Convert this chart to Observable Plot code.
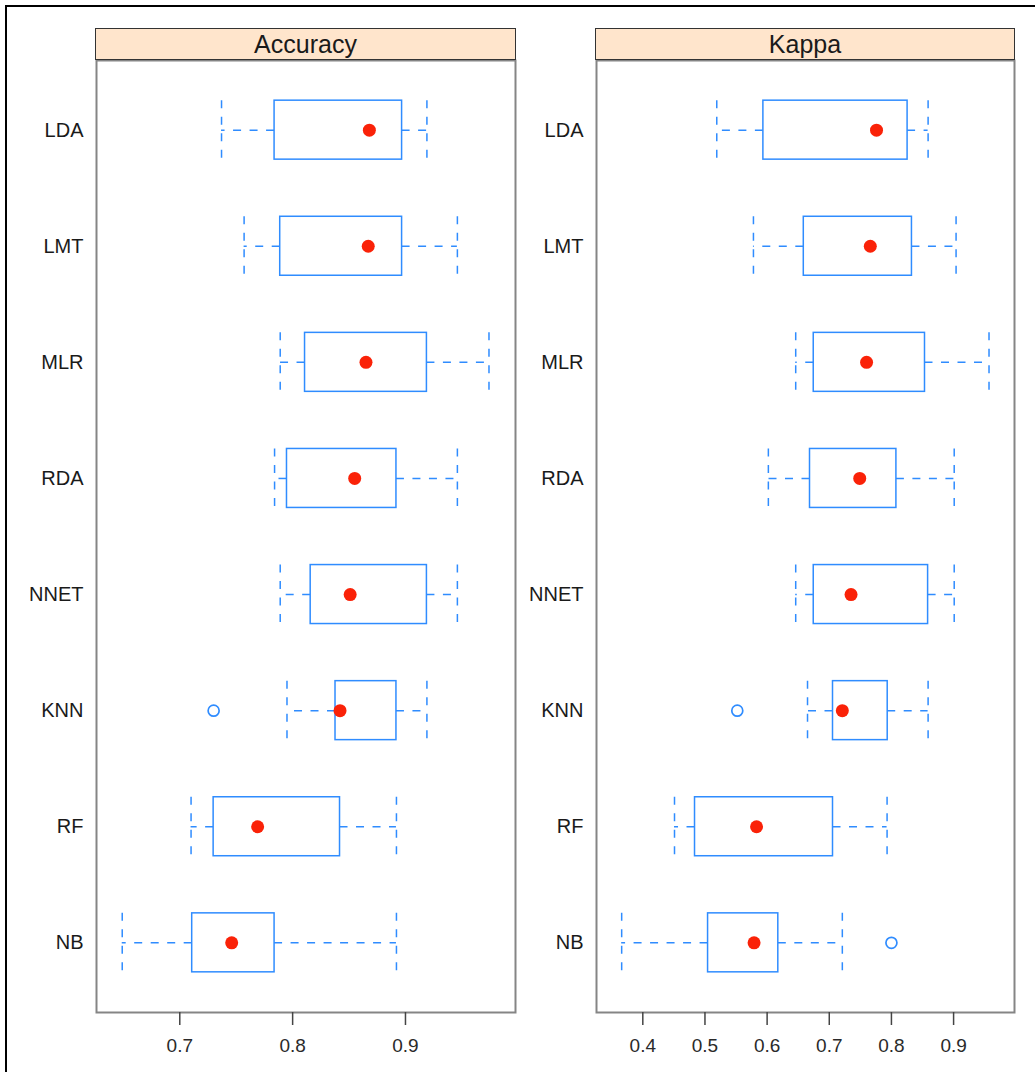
<!DOCTYPE html>
<html>
<head>
<meta charset="utf-8">
<script src="https://cdn.jsdelivr.net/npm/d3@7"></script>
<script src="https://cdn.jsdelivr.net/npm/@observablehq/plot@0.6"></script>
<style>
  html, body { margin: 0; padding: 0; background: white; }
  #wrap { position: relative; width: 1035px; height: 1072px; overflow: hidden; font-family: "Liberation Sans", Arial, sans-serif; }
  .outer { position: absolute; left: 5px; top: 5px; right: -10px; bottom: -10px; border-top: 2px solid #000; border-left: 2px solid #000; }
  .strip { position: absolute; top: 28px; height: 32px; box-sizing: border-box; border: 1.5px solid #333; background: #ffe5cc; color: #1a1a1a; font-size: 25px; text-align: center; line-height: 30px; }
  .panel { position: absolute; top: 58px; }
</style>
</head>
<body>
<div id="wrap">
  <div class="outer"></div>
</div>
<script>
// Models, top to bottom
const models = ["LDA", "LMT", "MLR", "RDA", "NNET", "KNN", "RF", "NB"];

// Accuracy
const accLow  = [0.737, 0.757, 0.789, 0.784, 0.789, 0.795, 0.710, 0.649];
const accQ1   = [0.784, 0.789, 0.811, 0.795, 0.816, 0.838, 0.730, 0.711];
const accMed  = [0.868, 0.867, 0.865, 0.855, 0.851, 0.842, 0.769, 0.746];
const accQ3   = [0.897, 0.897, 0.919, 0.892, 0.919, 0.892, 0.842, 0.784];
const accHigh = [0.919, 0.946, 0.974, 0.946, 0.946, 0.919, 0.892, 0.892];
const accOutModels = ["KNN"];
const accOutValues = [0.730];
const accTicks = [0.7, 0.8, 0.9];

// Kappa
const kapLow  = [0.519, 0.578, 0.646, 0.602, 0.646, 0.665, 0.451, 0.366];
const kapQ1   = [0.594, 0.659, 0.675, 0.669, 0.675, 0.706, 0.484, 0.505];
const kapMed  = [0.776, 0.766, 0.760, 0.749, 0.735, 0.721, 0.583, 0.579];
const kapQ3   = [0.826, 0.833, 0.854, 0.808, 0.859, 0.794, 0.706, 0.618];
const kapHigh = [0.859, 0.904, 0.957, 0.901, 0.901, 0.859, 0.793, 0.721];
const kapOutModels = ["KNN", "NB"];
const kapOutValues = [0.552, 0.800];
const kapTicks = [0.4, 0.5, 0.6, 0.7, 0.8, 0.9];

const BLUE = "#2f8cff";
const RED = "#fa2208";
const H = 0.254; // half box height in category units
const n = models.length;
const pos = m => n - models.indexOf(m); // LDA = 8 (top), NB = 1 (bottom)

function makePanel({title, low, q1, med, q3, high, outModels, outValues, ticks, domain, left, width, marginLeft, marginRight}) {
  const rows = models.map((m, k) => ({model: m, i: pos(m), low: low[k], q1: q1[k], med: med[k], q3: q3[k], high: high[k]}));
  const outs = outModels.map((m, k) => ({model: m, i: pos(m), value: outValues[k]}));
  const plot = Plot.plot({
    width, height: 1014,
    marginLeft, marginRight, marginTop: 2, marginBottom: 60,
    style: {background: "transparent", fontFamily: "'Liberation Sans', Arial, sans-serif", overflow: "visible"},
    x: {domain},
    y: {domain: [0.4, n + 0.6]},
    marks: [
      Plot.frame({stroke: "#858585", strokeWidth: 2}),
      // whiskers (from box edge outward)
      Plot.ruleY(rows, {y: "i", x1: "q1", x2: "low", stroke: BLUE, strokeWidth: 1.5, strokeDasharray: "8,8.5"}),
      Plot.ruleY(rows, {y: "i", x1: "q3", x2: "high", stroke: BLUE, strokeWidth: 1.5, strokeDasharray: "8,8.5"}),
      // whisker caps
      Plot.ruleX(rows, {x: "low", y1: d => d.i + H, y2: d => d.i - H, stroke: BLUE, strokeWidth: 1.5, strokeDasharray: "8,8.5"}),
      Plot.ruleX(rows, {x: "high", y1: d => d.i + H, y2: d => d.i - H, stroke: BLUE, strokeWidth: 1.5, strokeDasharray: "8,8.5"}),
      // boxes
      Plot.rect(rows, {x1: "q1", x2: "q3", y1: d => d.i - H, y2: d => d.i + H, fill: "white", stroke: BLUE, strokeWidth: 1.5}),
      // outliers
      Plot.dot(outs, {x: "value", y: "i", r: 5.5, stroke: BLUE, strokeWidth: 1.7, fill: "none"}),
      // medians
      Plot.dot(rows, {x: "med", y: "i", r: 6.5, fill: RED, stroke: "none"}),
      Plot.axisY({ticks: models.map(pos), tickFormat: d => models[n - d], tickSize: 0, tickPadding: 13, fontSize: 20, fill: "#1a1a1a", label: null}),
      Plot.axisX({ticks, tickFormat: d3.format(".1f"), tickSize: 13, tickPadding: 13, fontSize: 19, stroke: "#444", strokeWidth: 1.5, fill: "#2a2a2a", label: null})
    ]
  });
  plot.classList.add("panel");
  plot.style.left = left + "px";
  plot.style.position = "absolute";
  plot.style.top = "58px";
  const wrap = document.getElementById("wrap");
  wrap.appendChild(plot);
  const strip = document.createElement("div");
  strip.className = "strip";
  strip.style.left = (left + marginLeft - 1) + "px";
  strip.style.width = (width - marginLeft - marginRight + 2) + "px";
  strip.textContent = title;
  wrap.appendChild(strip);
}

makePanel({title: "Accuracy", low: accLow, q1: accQ1, med: accMed, q3: accQ3, high: accHigh,
  outModels: accOutModels, outValues: accOutValues, ticks: accTicks, domain: [0.6262, 0.9975],
  left: 0, width: 517, marginLeft: 96, marginRight: 2});
makePanel({title: "Kappa", low: kapLow, q1: kapQ1, med: kapMed, q3: kapQ3, high: kapHigh,
  outModels: kapOutModels, outValues: kapOutValues, ticks: kapTicks, domain: [0.3255, 0.998],
  left: 517, width: 518, marginLeft: 79, marginRight: 21});
</script>
</body>
</html>
